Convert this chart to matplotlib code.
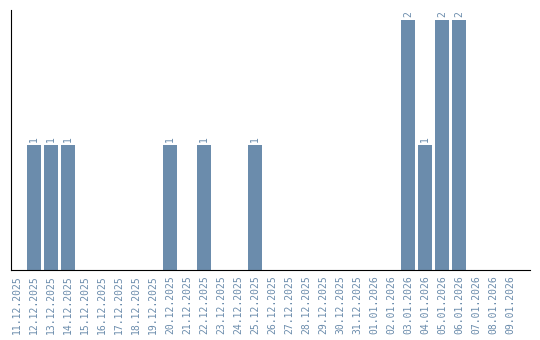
import matplotlib
matplotlib.use('Agg')
import matplotlib.pyplot as plt

dates = ['11.12.2025', '12.12.2025', '13.12.2025', '14.12.2025', '15.12.2025',
         '16.12.2025', '17.12.2025', '18.12.2025', '19.12.2025', '20.12.2025',
         '21.12.2025', '22.12.2025', '23.12.2025', '24.12.2025', '25.12.2025',
         '26.12.2025', '27.12.2025', '28.12.2025', '29.12.2025', '30.12.2025',
         '31.12.2025', '01.01.2026', '02.01.2026', '03.01.2026', '04.01.2026',
         '05.01.2026', '06.01.2026', '07.01.2026', '08.01.2026', '09.01.2026']
counts = [0, 1, 1, 1, 0, 0, 0, 0, 0, 1,
          0, 1, 0, 0, 1, 0, 0, 0, 0, 0,
          0, 0, 0, 2, 1, 2, 2, 0, 0, 0]

bar_color = '#6b8cac'
text_color = '#6b8cac'

fig = plt.figure(figsize=(5.4, 3.4), dpi=100)
ax = fig.add_axes([0.0204, 0.2059, 0.9611, 0.7647])

x = list(range(len(dates)))
ax.bar(x, counts, width=0.82, color=bar_color)

# value labels above non-empty bars
for i, c in zip(x, counts):
    if c > 0:
        ax.text(i, c + 0.02, str(c), rotation=90, ha='center', va='bottom',
                color=text_color, fontsize=7, family='DejaVu Sans Mono')

ax.set_xlim(-0.35, 30.18)
ax.set_ylim(0, 2.08)
ax.set_xticks(x)
ax.set_xticklabels(dates, rotation=90, color=text_color, fontsize=7,
                   family='DejaVu Sans Mono')
ax.tick_params(axis='x', length=0, pad=4)
ax.set_yticks([])

ax.spines['top'].set_visible(False)
ax.spines['right'].set_visible(False)
ax.spines['left'].set_color('black')
ax.spines['bottom'].set_color('black')

fig.savefig('out.png', dpi=100)
